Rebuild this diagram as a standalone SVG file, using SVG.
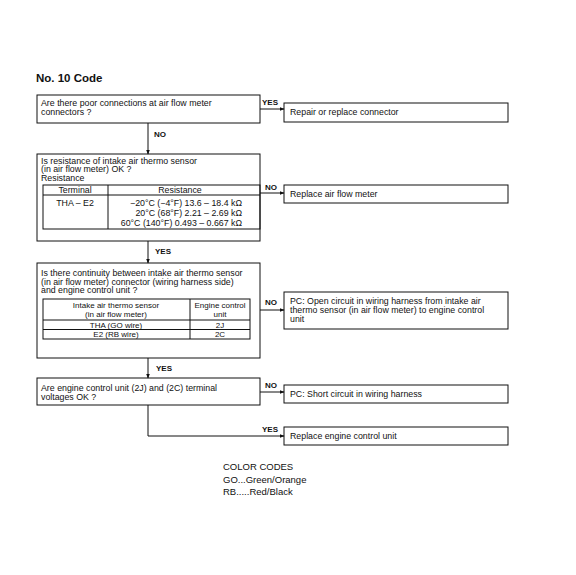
<svg xmlns="http://www.w3.org/2000/svg" width="576" height="575" viewBox="0 0 576 575">
<style>
text{font-family:"Liberation Sans",Arial,sans-serif;font-size:8.8px;fill:#111}
.t{font-size:11.5px;font-weight:bold}
.lb{font-size:8px;font-weight:bold}
.c{text-anchor:middle}
.e{text-anchor:end}
.s{font-size:8px}
.cc{font-size:9.5px}
rect,line.b,path.b{fill:none;stroke:#111;stroke-width:1}
.cn{fill:none;stroke:#111;stroke-width:1}
</style>
<defs>
<marker id="ah" markerWidth="5" markerHeight="4" refX="4.5" refY="2" orient="auto" markerUnits="userSpaceOnUse">
<path d="M0,0 L5,2 L0,4 z" fill="#111"/>
</marker>
</defs>
<rect x="0" y="0" width="576" height="575" fill="#fff" style="stroke:none"/>
<text class="t" x="36" y="82">No. 10 Code</text>

<g id="q1">
<rect x="37" y="95" width="223" height="28"/>
<text x="41" y="106">Are there poor connections at air flow meter</text>
<text x="41" y="115">connectors ?</text>
</g>
<g id="a1">
<rect x="284" y="103" width="224" height="19"/>
<text x="290" y="115">Repair or replace connector</text>
</g>

<g id="q2">
<rect x="37" y="154" width="223" height="87"/>
<text x="41" y="163.5">Is resistance of intake air thermo sensor</text>
<text x="41" y="172">(in air flow meter) OK ?</text>
<text x="41" y="180.5">Resistance</text>
<rect x="43" y="185" width="217" height="44"/>
<line class="b" x1="43" y1="195" x2="260" y2="195"/>
<line class="b" x1="108" y1="185" x2="108" y2="229"/>
<text class="c" x="75" y="193">Terminal</text>
<text class="c" x="180" y="193">Resistance</text>
<text class="c" x="75" y="206">THA – E2</text>
<text class="e" x="242" y="206">−20°C (−4°F) 13.6 – 18.4 kΩ</text>
<text class="e" x="242" y="216">20°C (68°F) 2.21 – 2.69 kΩ</text>
<text class="e" x="242" y="226">60°C (140°F) 0.493 – 0.667 kΩ</text>
</g>
<g id="a2">
<rect x="284" y="185" width="224" height="18"/>
<text x="290" y="197">Replace air flow meter</text>
</g>

<g id="q3">
<rect x="37" y="263" width="223" height="95"/>
<text x="41" y="276">Is there continuity between intake air thermo sensor</text>
<text x="41" y="284.5">(in air flow meter) connector (wiring harness side)</text>
<text x="41" y="293">and engine control unit ?</text>
<rect x="43" y="299" width="207" height="40"/>
<line class="b" x1="43" y1="320" x2="250" y2="320"/>
<line class="b" x1="43" y1="329.5" x2="250" y2="329.5"/>
<line class="b" x1="190" y1="299" x2="190" y2="339"/>
<text class="c s" x="116" y="308">Intake air thermo sensor</text>
<text class="c s" x="116" y="317">(in air flow meter)</text>
<text class="c s" x="220" y="308">Engine control</text>
<text class="c s" x="220" y="317">unit</text>
<text class="c s" x="116" y="327.5">THA (GO wire)</text>
<text class="c s" x="220" y="327.5">2J</text>
<text class="c s" x="116" y="337">E2 (RB wire)</text>
<text class="c s" x="220" y="337">2C</text>
</g>
<g id="a3">
<rect x="284" y="292" width="224" height="37"/>
<text x="290" y="304">PC: Open circuit in wiring harness from intake air</text>
<text x="290" y="313">thermo sensor (in air flow meter) to engine control</text>
<text x="290" y="322">unit</text>
</g>

<g id="q4">
<rect x="37" y="378" width="223" height="27"/>
<text x="41" y="391">Are engine control unit (2J) and (2C) terminal</text>
<text x="41" y="399.5">voltages OK ?</text>
</g>
<g id="a4">
<rect x="284" y="385" width="224" height="18"/>
<text x="290" y="397">PC: Short circuit in wiring harness</text>
</g>
<g id="a5">
<rect x="284" y="427" width="224" height="18"/>
<text x="290" y="439">Replace engine control unit</text>
</g>

<g id="connectors">
<line class="cn" x1="260" y1="109" x2="284" y2="109" marker-end="url(#ah)"/>
<text class="lb" x="262" y="105">YES</text>
<line class="cn" x1="148" y1="123" x2="148" y2="154" marker-end="url(#ah)"/>
<text class="lb" x="154" y="137">NO</text>
<line class="cn" x1="260" y1="193" x2="284" y2="193" marker-end="url(#ah)"/>
<text class="lb" x="265" y="190">NO</text>
<line class="cn" x1="148" y1="241" x2="148" y2="263" marker-end="url(#ah)"/>
<text class="lb" x="155" y="254">YES</text>
<line class="cn" x1="260" y1="310" x2="284" y2="310" marker-end="url(#ah)"/>
<text class="lb" x="265" y="305">NO</text>
<line class="cn" x1="148" y1="358" x2="148" y2="378" marker-end="url(#ah)"/>
<text class="lb" x="156" y="371">YES</text>
<line class="cn" x1="260" y1="392" x2="284" y2="392" marker-end="url(#ah)"/>
<text class="lb" x="265" y="388">NO</text>
<path class="cn" d="M148,405 V436 H284" marker-end="url(#ah)"/>
<text class="lb" x="262" y="432">YES</text>
</g>

<g id="colorcodes">
<text class="cc" x="223" y="470">COLOR CODES</text>
<text class="cc" x="223" y="483">GO...Green/Orange</text>
<text class="cc" x="223" y="495">RB.....Red/Black</text>
</g>
</svg>
